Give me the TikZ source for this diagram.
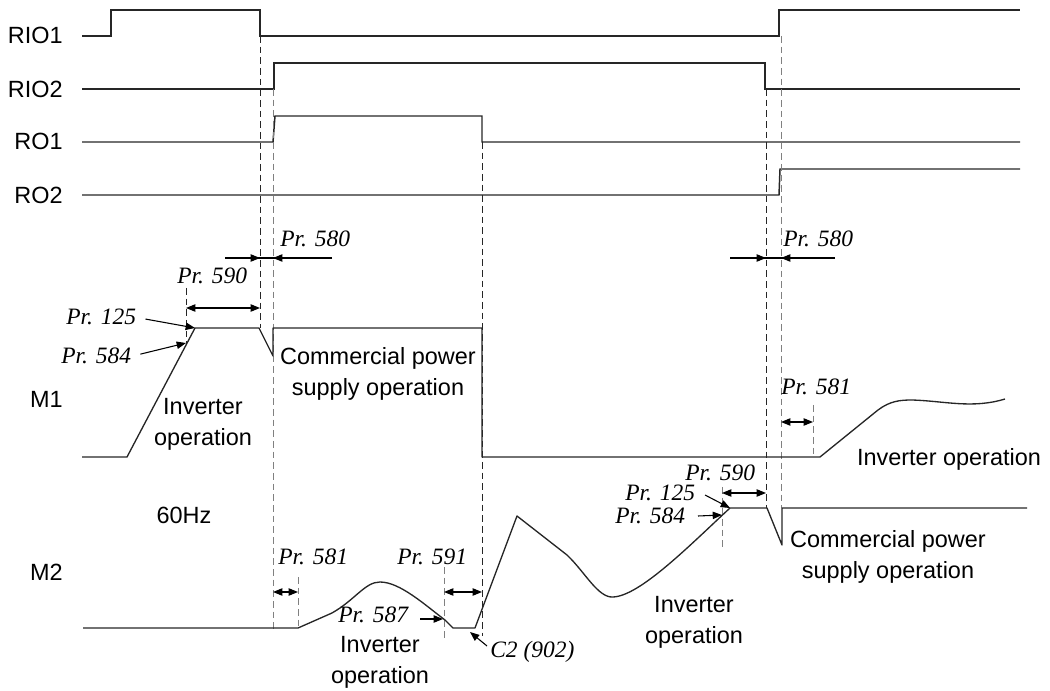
\documentclass[tikz,border=0pt]{standalone}
\usepackage{fontspec}
\setmainfont{Liberation Serif}
\newfontfamily\lsans{Liberation Sans}
\usetikzlibrary{arrows.meta}
\begin{document}
\begin{tikzpicture}[x=0.75pt,y=-0.75pt,
  sig/.style={line width=1.1pt, draw=black!85, line join=miter},
  wave/.style={line width=1pt, draw=black!85, line join=round},
  guide/.style={line width=0.75pt, draw=black!85, dash pattern=on 5pt off 3pt},
  guidegray/.style={guide, draw=black!50},
  dimarr/.style={line width=0.8pt, draw=black, {Triangle[length=7pt,width=5.5pt]}-{Triangle[length=7pt,width=5.5pt]}},
  ptr/.style={line width=0.8pt, draw=black, -{Triangle[length=7pt,width=5.5pt]}},
  lab/.style={font=\lsans\fontsize{17.6}{21}\selectfont, inner sep=0pt, anchor=base},
  prm/.style={font=\fontsize{17.6}{20}\selectfont\itshape, inner sep=0pt, anchor=base west},
]
\path[use as bounding box] (0,0) rectangle (1050,691);

% ---------- signal labels ----------
\node[lab, anchor=base east] (lRIO1) at (63,44) {RIO1};
\node[lab, anchor=base east] (lRIO2) at (63,98) {RIO2};
\node[lab, anchor=base east] (lRO1) at (63,150) {RO1};
\node[lab, anchor=base east] (lRO2) at (63,204) {RO2};
\node[lab, anchor=base east] (lM1) at (63,408) {M1};
\node[lab, anchor=base east] (lM2) at (63,580) {M2};
\node[lab] (hz) at (184,523) {60Hz};

% ---------- digital signals ----------
\draw[sig] (82,36) -- (111,36) -- (111,10) -- (260,10) -- (260,36) -- (779,36) -- (779,10) -- (1020,10);
\draw[sig] (82,89) -- (274,89) -- (274,63) -- (765,63) -- (765,89) -- (1020,89);
\draw[sig] (82,142) -- (273,142) -- (275,116) -- (482,116) -- (482,142) -- (1020,142);
\draw[sig] (82,195) -- (779,195) -- (780,169) -- (1020,169);

% ---------- guide lines ----------
\draw[guide] (260,36) -- (260,328);
\draw[guidegray] (273,89) -- (273,630);
\draw[guide] (482,142) -- (482,636);
\draw[guide] (766,89) -- (766,508);
\draw[guidegray] (781,36) -- (781,508);
\draw[guide] (186,288) -- (186,343);
\draw[guidegray] (813,405) -- (813,457);
\draw[guidegray] (298,577) -- (298,628);
\draw[guidegray] (444,567) -- (444,638);
\draw[guidegray] (722,487) -- (722,548);

% ---------- M1 ----------
\coordinate (m1apex) at (195,328);
\coordinate (m1ramp) at (186,343);
\draw[wave] (82,457) -- (127,457) -- (m1apex) -- (259,328) -- (273,356) -- (273,328) -- (482,328) -- (482,457) -- (820,457)
  -- (878,410) .. controls (890,401) and (900,400) .. (912,400)
  .. controls (945,401) and (972,409) .. (1005,399);

% ---------- M2 ----------
\coordinate (m2apex) at (730,508);
\coordinate (m2ramp) at (722,515);
\coordinate (m2dec) at (443,619);
\coordinate (m2low) at (470,632);
\draw[wave] (83,628) -- (298,628) -- (332,613)
  .. controls (355,600) and (365,582) .. (380,582)
  .. controls (400,582) and (425,605) .. (445,620) -- (453,628) -- (475,628)
  -- (517,516) -- (567,555)
  .. controls (585,572) and (598,598) .. (613,597)
  .. controls (640,596) and (690,545) .. (m2apex) -- (767,508) -- (782,545) -- (782,508) -- (1027,508);

% ---------- Pr. 580 ----------
\node[prm] (p580a) at (280,247) {Pr. 580};
\node[prm] (p580b) at (783,247) {Pr. 580};
\coordinate (a580l) at (225,258); \coordinate (a580r) at (332,258);
\coordinate (t580l) at (260,258); \coordinate (t580r) at (273,258);
\draw[line width=0.8pt] (a580l) -- (a580r);
\draw[ptr] (a580l) -- (t580l);
\draw[ptr] (a580r) -- (t580r);
\coordinate (b580l) at (730,258); \coordinate (b580r) at (835,258);
\coordinate (u580l) at (766,258); \coordinate (u580r) at (781,258);
\draw[line width=0.8pt] (b580l) -- (b580r);
\draw[ptr] (b580l) -- (u580l);
\draw[ptr] (b580r) -- (u580r);

% ---------- M1 annotations ----------
\node[prm] (p590a) at (177,284) {Pr. 590};
\node[prm] (p125a) at (66,325) {Pr. 125};
\node[prm] (p584a) at (61,364) {Pr. 584};
\draw[dimarr] (186,308) -- (260,308);
\draw[ptr, shorten <=7pt] (p125a.east) -- (m1apex);
\draw[ptr, shorten <=7pt] (p584a.east) -- (m1ramp);
\node[prm] (p581a) at (781,395) {Pr. 581};
\draw[dimarr] (781,422) -- (813,422);

\node[lab] (m1inv1) at (203,415) {Inverter};
\node[lab] (m1inv2) at (203,446) {operation};
\node[lab] (m1com1) at (378,365) {Commercial power};
\node[lab] (m1com2) at (378,396) {supply operation};
\node[lab] (m1inv3) at (949,465) {Inverter operation};

% ---------- M2 annotations ----------
\node[prm] (p581b) at (278,564) {Pr. 581};
\node[prm] (p591) at (397,564) {Pr. 591};
\draw[dimarr] (273,592) -- (298,592);
\draw[dimarr] (444,592) -- (482,592);
\node[prm] (p587) at (338,622) {Pr. 587};
\coordinate (s587) at (420,619);
\draw[ptr] (s587) -- (m2dec);
\node[prm] (c2) at (490,657) {C2 (902)};
\coordinate (sc2) at (487,646);
\draw[ptr] (sc2) -- (m2low);

\node[prm] (p590b) at (685,480) {Pr. 590};
\node[prm] (p125b) at (625,501) {Pr. 125};
\node[prm] (p584b) at (615,523) {Pr. 584};
\draw[dimarr] (722,493) -- (766,493);
\coordinate (s125b) at (705,495);
\coordinate (s584b) at (698,516);
\draw[ptr] (s125b) -- (m2apex);
\draw[ptr] (s584b) -- (m2ramp);

\node[lab] (m2inv1) at (380,652) {Inverter};
\node[lab] (m2inv2) at (380,683) {operation};
\node[lab] (m2inv3) at (694,612) {Inverter};
\node[lab] (m2inv4) at (694,643) {operation};
\node[lab] (m2com1) at (888,547) {Commercial power};
\node[lab] (m2com2) at (888,578) {supply operation};
\end{tikzpicture}
\end{document}
